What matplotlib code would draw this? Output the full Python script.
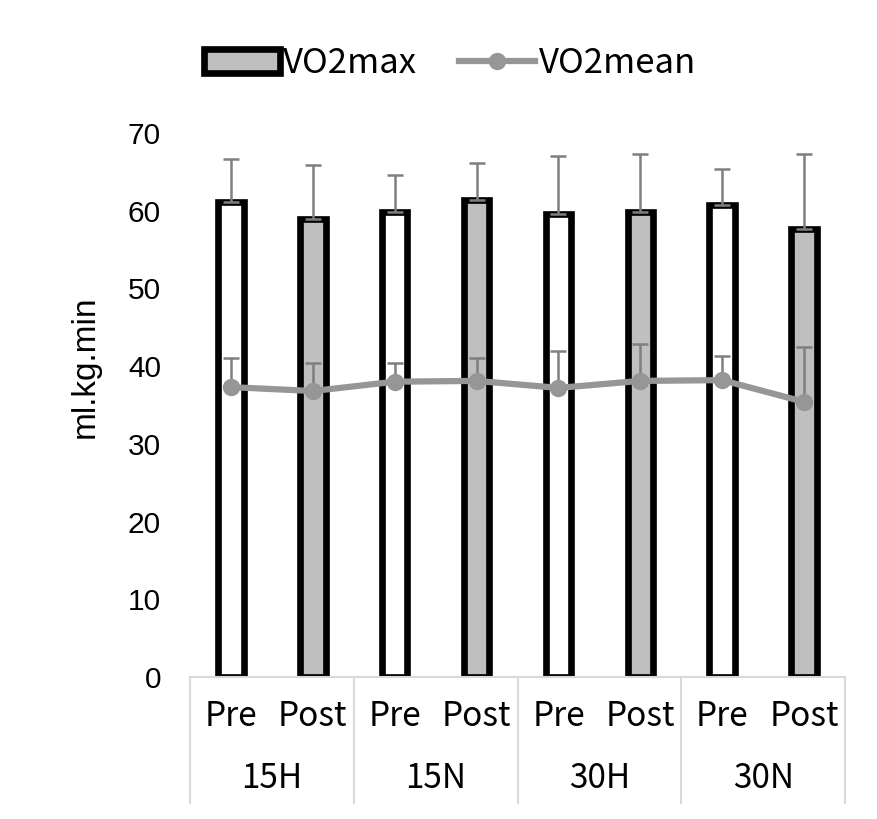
import numpy as np
import matplotlib
matplotlib.use("Agg")
import matplotlib.pyplot as plt
from matplotlib.patches import Patch
from matplotlib.lines import Line2D

# data
groups = ["15H", "15N", "30H", "30N"]
stages = ["Pre", "Post"]
vo2max = [61.1, 58.9, 59.8, 61.4, 59.6, 59.8, 60.8, 57.6]
vo2max_sd = [5.5, 7.0, 4.8, 4.7, 7.4, 7.5, 4.6, 9.7]
vo2mean = [37.3, 36.8, 38.0, 38.1, 37.2, 38.1, 38.2, 35.4]
vo2mean_sd = [3.7, 3.6, 2.4, 2.9, 4.7, 4.7, 3.1, 7.1]
y_ticks = [0, 10, 20, 30, 40, 50, 60, 70]

narrow = ["Noto Sans CJK SC", "DejaVu Sans"]
arial = ["Liberation Sans", "DejaVu Sans"]
grid_col = "#d9d9d9"
err_col = "#7f7f7f"
line_col = "#969696"
post_fill = "#bfbfbf"

fig = plt.figure(figsize=(8.77, 8.19), dpi=100)
ax = fig.add_axes([0.2167, 0.1734, 0.7468, 0.6642])

x = np.arange(len(vo2max))
fills = ["white" if i % 2 == 0 else post_fill for i in range(len(x))]

ax.bar(x, vo2max, width=0.31, color=fills, edgecolor="black", linewidth=4.8, zorder=2)
ax.errorbar(x, vo2max, yerr=[np.zeros(len(x)), vo2max_sd], fmt="none", ecolor=err_col,
            elinewidth=1.8, capsize=6, capthick=1.8, zorder=3)
ax.errorbar(x, vo2mean, yerr=[np.zeros(len(x)), vo2mean_sd], fmt="none", ecolor=err_col,
            elinewidth=1.8, capsize=6, capthick=1.8, zorder=4)
ax.plot(x, vo2mean, color=line_col, lw=4.5, marker="o", ms=11.5, zorder=5)

ax.set_xlim(-0.5, len(x) - 0.5)
ax.set_ylim(0, 70)
ax.set_yticks(y_ticks)
ax.set_yticklabels([str(t) for t in y_ticks], family=arial, fontsize=21.5)
ax.tick_params(axis="y", length=0, pad=21)
ax.set_xticks([])
for s in ["left", "right", "top"]:
    ax.spines[s].set_visible(False)
ax.spines["bottom"].set_color(grid_col)
ax.spines["bottom"].set_linewidth(1.5)

# two-level category axis
trans = ax.get_xaxis_transform()
for i in range(len(x)):
    ax.text(x[i], -0.0735, stages[i % 2], transform=trans, ha="center", va="center",
            family=narrow, fontsize=24)
for g, name in enumerate(groups):
    ax.text(2 * g + 0.5, -0.186, name, transform=trans, ha="center", va="center",
            family=narrow, fontsize=24)
for b in np.arange(-0.5, len(x), 2):
    ax.plot([b, b], [0, -0.232], transform=trans, color=grid_col, lw=1.5, clip_on=False)

fig.text(85 / 877, 1 - 367 / 819, "ml.kg.min", rotation=90, ha="center", va="center",
         family=arial, fontsize=24)

handles = [Patch(facecolor=post_fill, edgecolor="black", linewidth=4.8),
           Line2D([], [], color=line_col, lw=4.5, marker="o", ms=11.5)]
fig.legend(handles, ["VO2max", "VO2mean"], loc="center", bbox_to_anchor=(0.513, 0.922),
           ncol=2, frameon=False, prop={"family": narrow, "size": 25},
           handlelength=2.2, handletextpad=0.1, columnspacing=1.2)

fig.savefig("out.png", dpi=100)
